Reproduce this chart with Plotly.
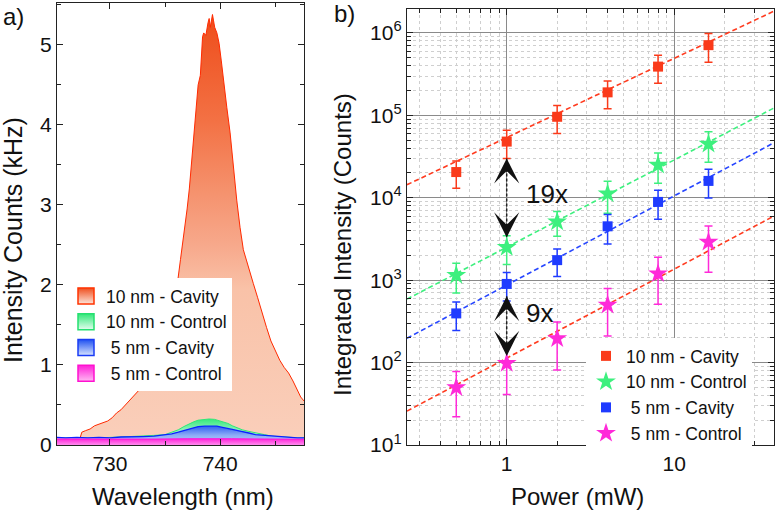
import numpy as np
import plotly.graph_objects as go

FONT = "Arial, Liberation Sans, sans-serif"

# ---------------- Panel a: spectra ----------------
wl_cav10 = [725.2, 725.8, 726.4, 727.0, 727.3, 727.45, 727.8, 728.2, 728.6, 729.0, 729.4, 729.8,
            730.2, 730.6, 731.0, 731.4, 731.8, 732.2, 732.6, 733.0, 733.4, 733.8, 734.2, 734.6,
            735.0, 735.4, 735.8, 736.1, 736.4, 736.7, 737.0, 737.2, 737.4, 737.6, 737.8, 738.0,
            738.2, 738.4, 738.5, 738.7, 738.9, 739.0, 739.1, 739.2, 739.3, 739.4, 739.5, 739.7,
            739.9, 740.1, 740.3, 740.6, 740.9, 741.2, 741.5, 741.8, 742.1, 742.4, 742.7, 743.0,
            743.4, 743.8, 744.2, 744.6, 745.0, 745.4, 745.8, 746.2, 746.6, 747.0, 747.3, 747.6]
int_cav10 = [0.08, 0.08, 0.08, 0.08, 0.09, 0.16, 0.18, 0.20, 0.24, 0.26, 0.28, 0.30,
             0.34, 0.40, 0.44, 0.50, 0.56, 0.62, 0.68, 0.76, 0.84, 0.94, 1.06, 1.20,
             1.36, 1.55, 1.78, 2.00, 2.32, 2.62, 2.95, 3.20, 3.55, 3.90, 4.20, 4.50,
             4.62, 5.10, 5.15, 5.12, 5.28, 5.33, 5.22, 5.30, 5.38, 5.30, 5.22, 5.15,
             5.02, 4.80, 4.55, 4.22, 3.90, 3.45, 3.06, 2.72, 2.44, 2.30, 2.15, 2.02,
             1.84, 1.64, 1.47, 1.30, 1.18, 1.06, 0.97, 0.90, 0.80, 0.68, 0.60, 0.55]

wl_ctl10 = [725.2, 727.0, 729.0, 731.0, 733.0, 734.0, 735.0, 735.6, 736.2, 736.7, 737.1, 737.6,
            738.0, 738.5, 739.0, 739.5, 740.2, 740.7, 741.1, 741.6, 742.0, 742.6, 743.2, 744.0,
            744.7, 745.5, 746.2, 747.0, 747.6]
int_ctl10 = [0.09, 0.09, 0.09, 0.10, 0.11, 0.12, 0.13, 0.16, 0.19, 0.23, 0.26, 0.29,
             0.31, 0.32, 0.325, 0.32, 0.29, 0.27, 0.24, 0.21, 0.19, 0.17, 0.15, 0.13,
             0.11, 0.10, 0.10, 0.09, 0.09]

wl_cav5 = [725.2, 726.0, 727.0, 728.0, 729.0, 730.0, 731.0, 732.0, 733.0, 734.0, 735.0, 735.6,
           736.2, 736.7, 737.1, 737.6, 738.0, 738.6, 739.2, 739.7, 740.2, 740.7, 741.1, 741.6,
           742.0, 742.6, 743.2, 744.0, 744.7, 745.5, 746.2, 747.0, 747.6]
int_cav5 = [0.095, 0.09, 0.095, 0.09, 0.095, 0.09, 0.10, 0.10, 0.105, 0.11, 0.125, 0.14,
            0.16, 0.18, 0.195, 0.215, 0.23, 0.235, 0.24, 0.235, 0.22, 0.21, 0.195, 0.18,
            0.165, 0.15, 0.13, 0.12, 0.11, 0.10, 0.095, 0.09, 0.09]

wl_ctl5 = [725.2, 728.0, 731.0, 734.0, 737.0, 739.0, 741.0, 744.0, 747.6]
int_ctl5 = [0.075, 0.072, 0.075, 0.074, 0.078, 0.08, 0.078, 0.075, 0.072]

spec_names = ["10 nm - Cavity", "10 nm - Control", "\u00a05 nm - Cavity", "\u00a05 nm - Control"]

# ---------------- Panel b: power dependence ----------------
power = [0.5, 1, 2, 4, 8, 16]
cav10 = [2.05e4, 4.8e4, 9.6e4, 1.9e5, 3.9e5, 7.1e5]
cav10_err = [7.5e3, 1.8e4, 3.6e4, 7.0e4, 1.45e5, 2.7e5]
ctl10 = [1.15e3, 2.5e3, 5.1e3, 1.12e4, 2.5e4, 4.5e4]
ctl10_err = [4.5e2, 9.5e2, 1.7e3, 4.7e3, 1.0e4, 1.8e4]
cav5 = [3.95e2, 9.0e2, 1.75e3, 4.5e3, 8.9e3, 1.6e4]
cav5_err = [1.5e2, 3.4e2, 6.4e2, 1.75e3, 3.4e3, 6.1e3]
ctl5 = [50, 98, 196, 500, 1.2e3, 2.9e3]
ctl5_err = [28, 57, 115, 290, 690, 1.65e3]

# log-log fit lines: log10(I) = intercept + slope*log10(P)
fit_intercept = [4.73, 3.40, 2.94, 2.054]
fit_slope = [0.962, 1.059, 1.083, 1.081]
fit_colors = ["#FF3B1F", "#3DF07E", "#2746FF", "#FF3B1F"]
power_range = [0.254, 39.4]

y_ticks_b = [1e1, 1e2, 1e3, 1e4, 1e5, 1e6]
y_ticktext_b = ["10<sup>1</sup>", "10<sup>2</sup>", "10<sup>3</sup>", "10<sup>4</sup>",
                "10<sup>5</sup>", "10<sup>6</sup>"]

arrow19_y = [3.0e4, 3.3e3]
arrow9_y = [640, 120]

fig = go.Figure()

# spectra fills
spec_style = [
    (wl_cav10, int_cav10, "#FF2A00", 1.0,
     [[0, "#FACFBB"], [0.36, "#F9C2A8"], [0.46, "#F7A98C"], [0.58, "#F5936F"],
      [0.75, "#F37144"], [1, "#EE4C1A"]], 5.4),
    (wl_ctl10, int_ctl10, "#2EE878", 1.0,
     [[0, "#D8FBE8"], [0.5, "#9EF3C4"], [1, "#30E87A"]], 0.33),
    (wl_cav5, int_cav5, "#0A22FF", 1.3,
     [[0, "#C4D6FC"], [0.5, "#8CACF6"], [1, "#2A58F0"]], 0.245),
    (wl_ctl5, int_ctl5, "#FF10D8", 1.0,
     [[0, "#FF8CEE"], [1, "#FF22DA"]], 0.08),
]
for wl, iv, lc, lw, cs, top in spec_style:
    fig.add_trace(go.Scatter(
        x=wl, y=iv, mode="lines", line=dict(color=lc, width=lw),
        fill="tozeroy",
        fillgradient=dict(type="vertical", colorscale=cs, start=0, stop=top),
        showlegend=False, xaxis="x", yaxis="y", hoverinfo="skip"))

# legend entries for panel a (gradient swatches)
legend_a = [("#EF4E1E", "#FCE3D8", "#FF3300"),
            ("#30E878", "#E2FDEE", "#25E070"),
            ("#1E50F0", "#D6E3FF", "#1A3CF5"),
            ("#FF1ED8", "#FFB8F2", "#FF10D0")]
for name, (c_top, c_bot, c_edge) in zip(spec_names, legend_a):
    fig.add_trace(go.Scatter(
        x=[None], y=[None], mode="markers", name=name,
        marker=dict(symbol="square", size=16, color=c_top,
                    gradient=dict(type="vertical", color=c_bot),
                    line=dict(color=c_edge, width=1.5)),
        xaxis="x", yaxis="y", legend="legend"))

# fit lines
for b0, b1, col in zip(fit_intercept, fit_slope, fit_colors):
    px = np.array(power_range)
    fig.add_trace(go.Scatter(
        x=px, y=10 ** (b0 + b1 * np.log10(px)), mode="lines",
        line=dict(color=col, width=1.6, dash="5px,3px"),
        showlegend=False, xaxis="x2", yaxis="y2", hoverinfo="skip"))

# data points
series_b = [
    (cav10, cav10_err, "#FA3A1A", "square", 10),
    (ctl10, ctl10_err, "#3DF07E", "star", 15),
    (cav5, cav5_err, "#1F3BFF", "square", 10),
    (ctl5, ctl5_err, "#FF2AD9", "star", 15),
]
for name, (vals, errs, col, sym, sz) in zip(spec_names, series_b):
    fig.add_trace(go.Scatter(
        x=power, y=vals, mode="markers", name=name,
        marker=dict(symbol=sym, size=sz, color=col, line=dict(width=0)),
        error_y=dict(type="data", array=errs, color=col, thickness=1.5, width=4),
        xaxis="x2", yaxis="y2", legend="legend2"))

# dashed arrow shafts
for ay in (arrow19_y, arrow9_y):
    fig.add_trace(go.Scatter(
        x=[1, 1], y=ay, mode="lines", line=dict(color="#222222", width=1.5, dash="3px,2px"),
        showlegend=False, xaxis="x2", yaxis="y2", hoverinfo="skip"))

annotations = []
for ay, ratio, ysh in ((arrow19_y, cav10[1] / ctl10[1], 4),
                       (arrow9_y, cav5[1] / ctl5[1], 13)):
    annotations.append(dict(xref="x2", yref="y2", x=0, y=np.log10(ay[0]), ax=0, ay=14,
                            text="", showarrow=True, arrowhead=3, arrowsize=3,
                            arrowwidth=1.4, arrowcolor="#111111"))
    annotations.append(dict(xref="x2", yref="y2", x=0, y=np.log10(ay[1]), ax=0, ay=-14,
                            text="", showarrow=True, arrowhead=3, arrowsize=3,
                            arrowwidth=1.4, arrowcolor="#111111"))
    annotations.append(dict(xref="x2", yref="y2", x=0,
                            y=(np.log10(ay[0]) + np.log10(ay[1])) / 2,
                            text=f"{round(ratio)}x", showarrow=False, xanchor="left",
                            yanchor="middle", xshift=17, yshift=ysh,
                            font=dict(size=26, color="#111111")))

W, H = 776, 512
def px_x(p):
    return p / W
def px_y(p):
    return 1 - p / H

def label(x, y, text, angle=0, size=24):
    return dict(xref="paper", yref="paper", x=px_x(x), y=px_y(y), text=text,
                showarrow=False, xanchor="center", yanchor="middle", textangle=angle,
                font=dict(size=size, color="#111111"))

annotations += [
    label(14, 16, "a)"),
    label(344, 13, "b)"),
    label(183, 496, "Wavelength (nm)"),
    label(13, 240, "Intensity Counts (kHz)", angle=-90, size=25),
    label(577, 496, "Power (mW)"),
    label(342, 245, "Integrated Intensity (Counts)", angle=-90),
]

axis_common = dict(showline=True, linecolor="#222222", linewidth=1.3, mirror="ticks",
                   ticks="inside", ticklen=6, tickwidth=1.2, tickcolor="#222222",
                   zeroline=False, automargin=False,
                   tickfont=dict(size=21, color="#111111"))

fig.update_layout(
    width=W, height=H, margin=dict(l=0, r=0, t=0, b=0, autoexpand=False),
    paper_bgcolor="white", plot_bgcolor="white",
    font=dict(family=FONT, color="#111111"),
    xaxis=dict(domain=[57 / W, 304 / W], range=[725.2, 747.6], anchor="y",
               tick0=730, dtick=10, showgrid=False,
               minor=dict(dtick=5, tick0=730, ticks="inside", ticklen=4, tickcolor="#222222"),
               **axis_common),
    yaxis=dict(domain=[1 - 445 / H, 1 - 3.3 / H], range=[0, 5.52], anchor="x",
               dtick=1, showgrid=False,
               minor=dict(dtick=0.5, ticks="inside", ticklen=4, tickcolor="#222222"),
               **axis_common),
    xaxis2=dict(type="log", domain=[407 / W, 774 / W], range=[-0.595, 1.595], anchor="y2",
                dtick=1, showgrid=True, gridcolor="#8a8a8a", gridwidth=0.9,
                minor=dict(dtick="D1", ticks="inside", ticklen=4, tickcolor="#222222",
                           showgrid=True, gridcolor="#cfcfcf", griddash="dot", gridwidth=0.8),
                **axis_common),
    yaxis2=dict(type="log", domain=[1 - 445 / H, 1 - 9 / H], range=[1, 6.29], anchor="x2",
                tickmode="array", tickvals=y_ticks_b, ticktext=y_ticktext_b,
                showgrid=True, gridcolor="#8a8a8a", gridwidth=0.9,
                minor=dict(dtick="D1", ticks="inside", ticklen=4, tickcolor="#222222",
                           showgrid=True, gridcolor="#cfcfcf", griddash="dot", gridwidth=0.8),
                **axis_common),
    legend=dict(x=px_x(66), y=px_y(278), xanchor="left", yanchor="top",
                bgcolor="white", borderwidth=0, font=dict(size=17.5, color="#111111"),
                tracegroupgap=0, itemsizing="trace"),
    legend2=dict(x=px_x(586), y=px_y(338), xanchor="left", yanchor="top",
                 bgcolor="white", borderwidth=0, font=dict(size=17.5, color="#111111"),
                 tracegroupgap=0, itemsizing="trace"),
    annotations=annotations,
)

POST = """
var gd = document.getElementById('{plot_id}');
document.documentElement.style.overflow = 'hidden';
document.body.style.margin = '0';
document.body.style.overflow = 'hidden';
gd.style.position = 'fixed';
gd.style.left = '0px';
gd.style.top = '0px';
"""

fig.write_html("out.html", config={"displayModeBar": False}, post_script=POST)
